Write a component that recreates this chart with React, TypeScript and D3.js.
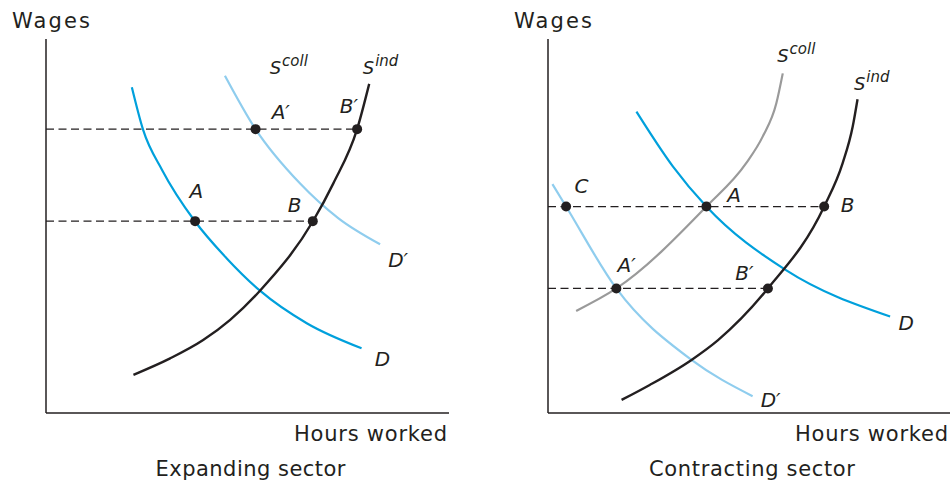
import React from "react";
import * as d3 from "d3";

// ---------- data (x = hours worked 0-100, y = wages 0-100) ----------
type Pt = [number, number];

const expandingD: Pt[] = [[21.3, 87.1], [24.1, 75.7], [28.8, 65.0], [37.0, 51.2], [44.8, 41.4], [53.1, 32.7], [64.7, 24.0], [78.3, 17.3]];
const expandingDPrime: Pt[] = [[44.4, 90.2], [52.0, 75.9], [63.0, 61.4], [72.5, 52.1], [82.9, 45.1]];
const expandingSind: Pt[] = [[21.7, 10.2], [30.8, 14.6], [39.0, 19.5], [45.7, 24.9], [53.1, 32.7], [66.2, 51.2], [71.3, 61.4], [77.2, 75.9], [80.2, 88.0]];
const expandingWageLevels = [75.9, 51.3];
const expandingPoints: Pt[] = [[52.0, 75.9], [77.2, 75.9], [37.0, 51.3], [66.2, 51.3]];
const expandingLabels = ["A′", "B′", "A", "B", "D′", "D"];
const expandingLabelPos: Pt[] = [[56.0, 78.6], [72.9, 80.2], [35.6, 57.5], [60.0, 53.7], [84.9, 39.1], [81.6, 12.6]];
const expandingSLabelPos: Pt[] = [[55.5, 90.6], [78.6, 90.6]];

const contractingD: Pt[] = [[22.0, 80.6], [31.1, 65.9], [39.4, 55.2], [59.2, 38.2], [85.1, 25.8]];
const contractingDPrime: Pt[] = [[1.1, 61.2], [4.5, 55.2], [17.0, 33.3], [35.7, 14.2], [50.9, 4.5]];
const contractingScoll: Pt[] = [[7.0, 27.3], [17.0, 33.3], [39.4, 55.2], [49.3, 66.8], [53.4, 73.9], [56.8, 82.8], [58.4, 90.8]];
const contractingSind: Pt[] = [[18.3, 3.5], [25.3, 7.5], [35.7, 14.2], [42.3, 19.5], [54.7, 33.3], [68.7, 55.2], [73.3, 66.8], [75.8, 76.6], [77.0, 83.9]];
const contractingWageLevels = [55.2, 33.3];
const contractingDashEnds = [68.7, 54.7];
const contractingPoints: Pt[] = [[4.5, 55.2], [39.4, 55.2], [68.7, 55.2], [17.0, 33.3], [54.7, 33.3]];
const contractingLabels = ["C", "A", "B", "A′", "B′", "D", "D′"];
const contractingLabelPos: Pt[] = [[6.6, 58.8], [44.6, 56.5], [72.8, 53.8], [17.3, 37.8], [46.6, 35.6], [87.2, 22.2], [52.9, 1.7]];
const contractingSLabelPos: Pt[] = [[57.0, 93.9], [76.1, 86.4]];

const sLabels = ["coll", "ind"];

// ---------- styles ----------
const INK = "#231f20";
const BLUE = "#00a0dc";
const LIGHT_BLUE = "#8fcdee";
const GRAY = "#9a9a9a";
const FONT = "'DejaVu Sans', Verdana, sans-serif";

type Curve = { pts: Pt[]; color: string; width: number };

function Panel(props: {
  x0: number; x1: number;
  curves: Curve[];
  wageLevels: number[];
  dashEnds: number[];
  points: Pt[];
  labels: string[];
  labelPos: Pt[];
  sLabelPos: Pt[];
  title: string;
  titleLen: number;
}) {
  const { x0, x1 } = props;
  const x = d3.scaleLinear().domain([0, 100]).range([x0, x1]);
  const y = d3.scaleLinear().domain([0, 100]).range([413, 39]);
  const line = d3.line<Pt>().x(d => x(d[0])).y(d => y(d[1])).curve(d3.curveMonotoneX);
  return (
    <g>
      {/* axes */}
      <line x1={x0} y1={y(100)} x2={x0} y2={y(0)} stroke={INK} strokeWidth={1.5} />
      <line x1={x0} y1={y(0)} x2={x1} y2={y(0)} stroke={INK} strokeWidth={1.5} />
      <text x={x0 - 34} y={28} fontFamily={FONT} fontSize={21} fill={INK} textLength={78} lengthAdjust="spacing">Wages</text>
      <text x={x1 - 155} y={441} fontFamily={FONT} fontSize={21} fill={INK} textLength={153} lengthAdjust="spacing">Hours worked</text>
      <text x={(x0 + x1) / 2 + 3 - props.titleLen / 2} y={476} fontFamily={FONT} fontSize={21} fill={INK} textLength={props.titleLen} lengthAdjust="spacing">{props.title}</text>
      {/* dashed wage levels */}
      {props.wageLevels.map((w, i) => (
        <line key={"d" + i} x1={x0} x2={x(props.dashEnds[i])} y1={y(w)} y2={y(w)} stroke={INK} strokeWidth={1.2} strokeDasharray="8,4.5" />
      ))}
      {/* curves */}
      {props.curves.map((c, i) => (
        <path key={"c" + i} d={line(c.pts) || ""} fill="none" stroke={c.color} strokeWidth={c.width} />
      ))}
      {/* points */}
      {props.points.map((p, i) => (
        <circle key={"p" + i} cx={x(p[0])} cy={y(p[1])} r={5} fill={INK} />
      ))}
      {/* labels */}
      {props.labels.map((l, i) => (
        <text key={"l" + i} x={x(props.labelPos[i][0])} y={y(props.labelPos[i][1])} fontFamily={FONT} fontStyle="italic" fontSize={20} fill={INK}>{l}</text>
      ))}
      {props.sLabelPos.map((p, i) => (
        <text key={"s" + i} x={x(p[0])} y={y(p[1])} fontFamily={FONT} fontStyle="italic" fontSize={18} fill={INK}>
          S<tspan fontSize={15} dy={-8} dx={1}>{sLabels[i]}</tspan>
        </text>
      ))}
    </g>
  );
}

export default function App() {
  return (
    <svg width={950} height={483} style={{ position: "absolute", left: 0, top: 0, background: "#fff" }}>
      <rect width={950} height={483} fill="#fff" />
      <Panel
        x0={46} x1={449}
        curves={[
          { pts: expandingD, color: BLUE, width: 2.2 },
          { pts: expandingDPrime, color: LIGHT_BLUE, width: 2.2 },
          { pts: expandingSind, color: INK, width: 2.4 },
        ]}
        wageLevels={expandingWageLevels}
        dashEnds={[expandingPoints[1][0], expandingPoints[3][0]]}
        points={expandingPoints}
        labels={expandingLabels}
        labelPos={expandingLabelPos}
        sLabelPos={expandingSLabelPos}
        title="Expanding sector"
        titleLen={190}
      />
      <Panel
        x0={548} x1={950}
        curves={[
          { pts: contractingScoll, color: GRAY, width: 2.2 },
          { pts: contractingD, color: BLUE, width: 2.2 },
          { pts: contractingDPrime, color: LIGHT_BLUE, width: 2.2 },
          { pts: contractingSind, color: INK, width: 2.4 },
        ]}
        wageLevels={contractingWageLevels}
        dashEnds={contractingDashEnds}
        points={contractingPoints}
        labels={contractingLabels}
        labelPos={contractingLabelPos}
        sLabelPos={contractingSLabelPos}
        title="Contracting sector"
        titleLen={206}
      />
    </svg>
  );
}
